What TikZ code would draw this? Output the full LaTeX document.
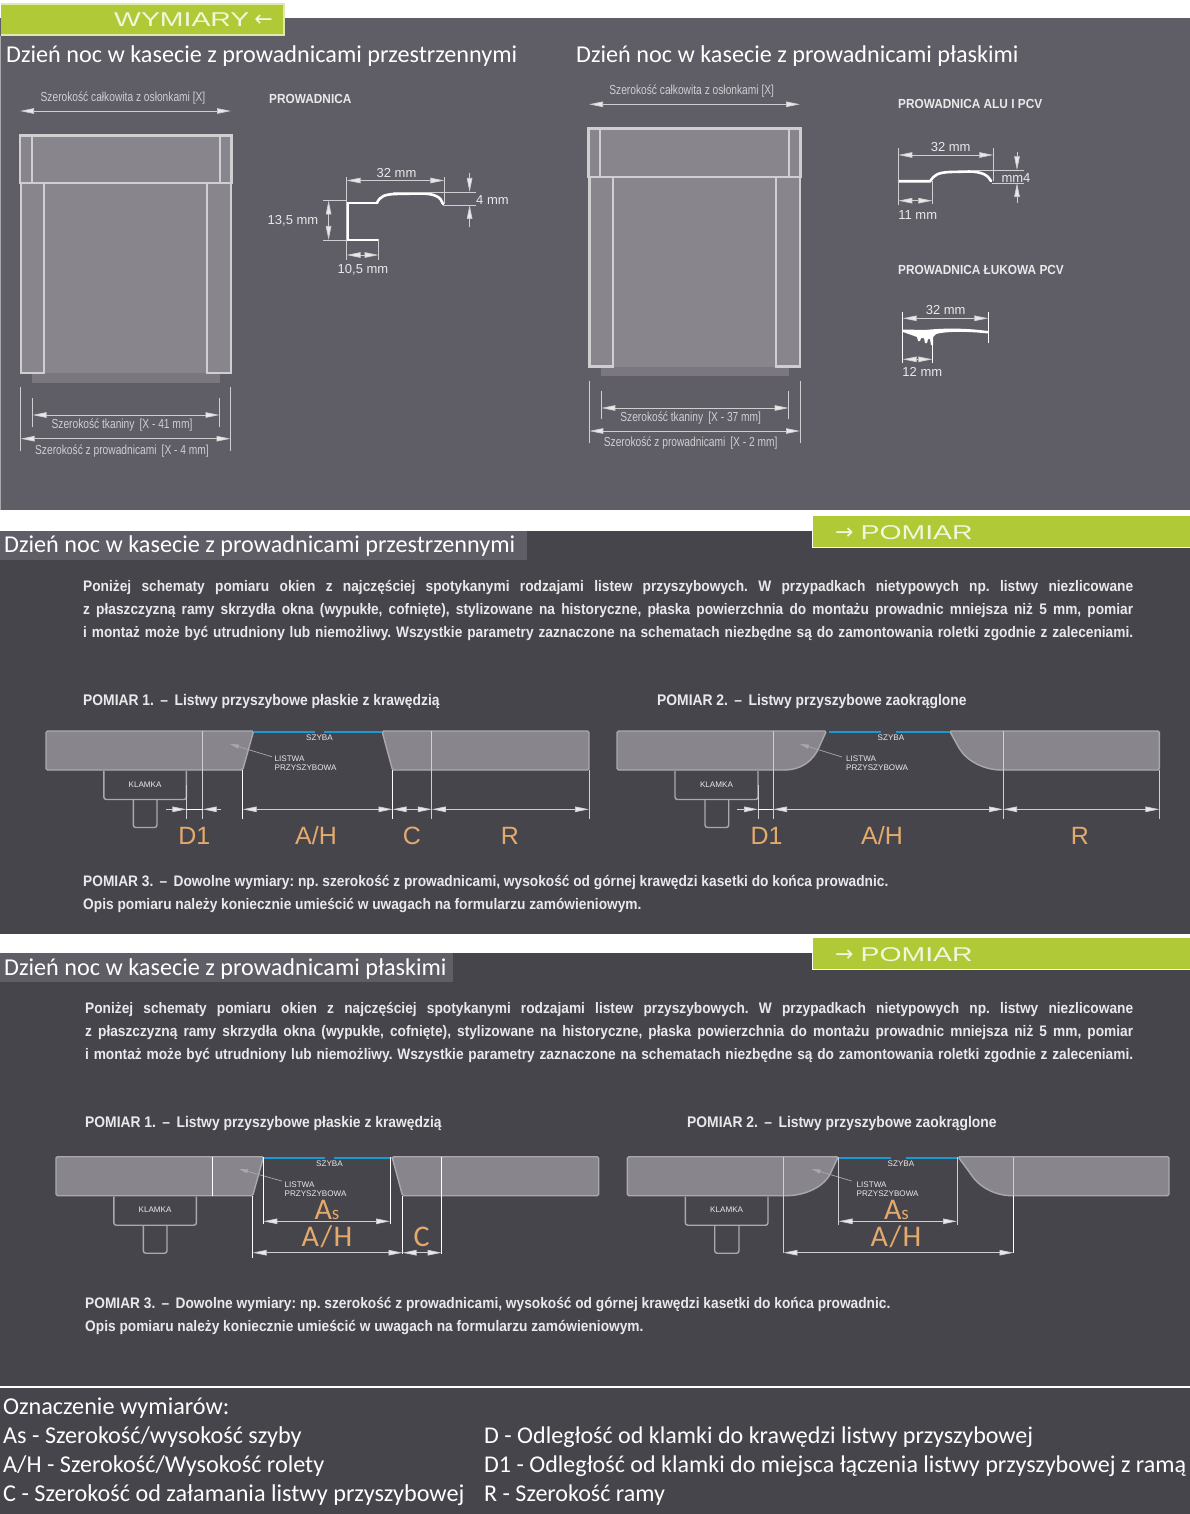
\documentclass[tikz,border=0pt]{standalone}
\usepackage{fontspec}
\usepackage{xcolor}
\usetikzlibrary{arrows.meta}
\newfontfamily\titlefont{Carlito}
\newfontfamily\plainfont{Liberation Sans}
\newfontfamily\captionfont[FakeStretch=0.78]{Liberation Sans}
\newfontfamily\narrowfont[FakeStretch=0.9]{Liberation Sans}
\newfontfamily\tabfont[FakeStretch=1.42]{Liberation Sans}
\newfontfamily\arrowfont{DejaVu Sans}
\definecolor{panelgray}{HTML}{5F5D66}
\definecolor{paneldark}{HTML}{47454C}
\definecolor{tabgreen}{HTML}{AFCA36}
\definecolor{tabtext}{HTML}{F2F6DC}
\definecolor{barfill}{HTML}{88868C}
\definecolor{barline}{HTML}{A9A9AD}
\definecolor{rimline}{HTML}{CFCFD2}
\definecolor{fabricdark}{HTML}{7A787E}
\definecolor{glassblue}{HTML}{1A9AD0}
\definecolor{sizeorange}{HTML}{E4AA6C}
\definecolor{softwhite}{HTML}{E9E9EB}
\tikzset{
	txt/.style={inner sep=0,text=softwhite},
	heading/.style={txt,anchor=west,text=white,yshift=-1.5pt,font=\titlefont\fontsize{24.2}{30}\selectfont},
	legend/.style={txt,anchor=west,text=white,yshift=-1.2pt,font=\titlefont\fontsize{24.2}{30}\selectfont},
	legendright/.style={legend,font=\titlefont\fontsize{24.05}{30}\selectfont},
	caption/.style={txt,text=rimline,yshift=-0.8pt,font=\captionfont\fontsize{13.1}{15}\selectfont},
	guidehead/.style={txt,anchor=west,yshift=-1.5pt,font=\narrowfont\bfseries\fontsize{15.25}{17}\selectfont\frenchspacing},
	pomiar/.style={txt,anchor=west,yshift=-1.5pt,font=\narrowfont\bfseries\fontsize{15.4}{18}\selectfont\frenchspacing},
	profilehead/.style={txt,anchor=west,yshift=-0.8pt,font=\narrowfont\bfseries\fontsize{13.15}{17}\selectfont},
	mm/.style={txt,yshift=-0.7pt,font=\plainfont\fontsize{13}{15}\selectfont},
	tiny/.style={txt,font=\plainfont\fontsize{8.1}{9}\selectfont},
	tinyleft/.style={tiny,anchor=west},
	tabtitle/.style={inner sep=0,anchor=west,text=tabtext,font=\tabfont\fontsize{20}{24}\selectfont},
	size/.style={inner sep=0,text=sizeorange,font=\plainfont\fontsize{25}{30}\selectfont},
	sizewide/.style={inner sep=0,text=sizeorange,font=\titlefont\fontsize{30}{32}\selectfont},
	dimline/.style={draw=rimline,line width=0.7pt,{Triangle[length=14pt,width=5.5pt,fill=softwhite]}-{Triangle[length=14pt,width=5.5pt,fill=softwhite]}},
	dimone/.style={draw=rimline,line width=0.7pt,-{Triangle[length=14pt,width=5.5pt,fill=softwhite]}},
	extline/.style={draw=rimline,line width=0.7pt},
	extwhite/.style={draw=white,line width=1pt},
	frame/.style={draw=rimline,line width=2.6pt,fill=barfill},
	bar/.style={draw=barline,line width=1.4pt,fill=barfill,rounded corners=1.5pt},
	lock/.style={draw=barline,line width=1.4pt,rounded corners=2.5pt},
	glass/.style={draw=glassblue,line width=2.4pt},
	leader/.style={draw=barline,line width=0.7pt,-{Triangle[length=9pt,width=4pt]}},
	profile/.style={draw=white,line width=2.6pt,line cap=round},
}
\newcommand{\klamka}[6]{% name, left, right, knob left, knob right, top
	\draw[lock] (#2,#6) -- (#2,#6+28.5) -- (#3,#6+28.5) -- (#3,#6);
	\draw[lock] (#4,#6+29) -- (#4,#6+56.5) -- (#5,#6+56.5) -- (#5,#6+29);
	\node[tiny] (#1) at ({(#2+#3)/2},#6+13.3) {KLAMKA};
}
\newcommand{\listwa}[4]{% name, centre of SZYBA, left of text, bar top
	\node[tiny] (#1szyba) at (#2,#4+7) {SZYBA};
	\node[tinyleft] (#1listwa) at (#3,#4+27.7) {LISTWA};
	\node[tinyleft] (#1przy) at (#3,#4+36.7) {PRZYSZYBOWA};
}
\newcommand{\bodytext}[5]{% name, left, width, y, text
	\node[guidehead] (#1) at (#2,#4) {\makebox[#3pt][s]{#5}};
}
\begin{document}
\begin{tikzpicture}[x=1pt,y=-1pt]
	\useasboundingbox (0,0) rectangle (1190,1514);
	\fill[white] (0,0) rectangle (1190,1514);
	
	% panels
	\fill[panelgray] (0,18) rectangle (1190,510);
	\draw[barline,line width=1pt] (0.5,36) -- (0.5,510);
	\fill[paneldark] (0,531) rectangle (1190,934);
	\fill[paneldark] (0,953) rectangle (1190,1514);
	\fill[panelgray] (0,531) rectangle (527,560);
	\fill[panelgray] (0,953) rectangle (453,982);
	\draw[white,line width=1.6pt] (0,1387) -- (1190,1387);
	
	% tabs
	\fill[tabgreen] (1,4) rectangle (284,35);
	\draw[tabtext!70!tabgreen,line width=1.4pt] (1,4) -- (284,4) -- (284,35) -- (1,35);
	\node[tabtitle] (wymiary) at (114,20) {WYMIARY\hspace{5pt}{\arrowfont\fontsize{22}{24}\selectfont ←}};
	\fill[tabgreen] (812,516) rectangle (1190,547);
	\draw[white,line width=1.4pt] (812.5,516) -- (812.5,547.5) -- (1190,547.5);
	\node[tabtitle] (pomiartop) at (835,533) {{\arrowfont\fontsize{22}{24}\selectfont →}\hspace{7pt}POMIAR};
	\fill[tabgreen] (812,938) rectangle (1190,969);
	\draw[white,line width=1.4pt] (812.5,938) -- (812.5,969.5) -- (1190,969.5);
	\node[tabtitle] (pomiarlow) at (835,955) {{\arrowfont\fontsize{22}{24}\selectfont →}\hspace{7pt}POMIAR};
	
	% headings
	\node[heading] (headA) at (6,55) {Dzień noc w kasecie z prowadnicami przestrzennymi};
	\node[heading] (headB) at (576,55) {Dzień noc w kasecie z prowadnicami płaskimi};
	\node[heading] (headC) at (4,545) {Dzień noc w kasecie z prowadnicami przestrzennymi};
	\node[heading] (headD) at (4,968) {Dzień noc w kasecie z prowadnicami płaskimi};
	
	% window, space guides
	\fill[barfill] (32,183) rectangle (220,373);
	\fill[fabricdark] (32,373) rectangle (220,383);
	\draw[frame] (21,183) rectangle (44,373);
	\draw[frame] (207,183) rectangle (231,373);
	\draw[frame] (20,135.5) rectangle (231.5,183);
	\draw[rimline,line width=2.6pt] (32,135.5) -- (32,183) (220,135.5) -- (220,183);
	\draw[dimline] (20,111) -- (231,111);
	\node[caption] (totalA) at (123,97) {Szerokość całkowita z osłonkami [X]};
	\draw[extline] (20.7,387) -- (20.7,451) (230.5,387) -- (230.5,451);
	\draw[extline] (32.5,398) -- (32.5,427) (219.5,398) -- (219.5,427);
	\draw[dimline] (32.5,415) -- (219.5,415);
	\node[caption] (fabricA) at (122,424) {Szerokość tkaniny\, [X - 41 mm]};
	\draw[dimline] (20.7,438.7) -- (230.5,438.7);
	\node[caption] (guidesA) at (122,450) {Szerokość z prowadnicami\, [X - 4 mm]};
	
	% window, flat guides
	\fill[barfill] (601,177) rectangle (789,367);
	\fill[fabricdark] (601,367) rectangle (789,375.5);
	\draw[frame] (589.5,177) rectangle (613,366.5);
	\draw[frame] (776,177) rectangle (800,366.5);
	\draw[frame] (588.5,128.5) rectangle (800.5,177);
	\draw[rimline,line width=2.6pt] (600,128.5) -- (600,177) (789,128.5) -- (789,177);
	\draw[dimline] (589,104.3) -- (800,104.3);
	\node[caption] (totalB) at (691.7,90.7) {Szerokość całkowita z osłonkami [X]};
	\draw[extline] (589.3,380.7) -- (589.3,443) (800,380.7) -- (800,443);
	\draw[extline] (601.3,390.7) -- (601.3,419) (788.7,390.7) -- (788.7,419);
	\draw[dimline] (601.3,408) -- (788.7,408);
	\node[caption] (fabricB) at (690.7,417.3) {Szerokość tkaniny\, [X - 37 mm]};
	\draw[dimline] (589.3,431) -- (800,431);
	\node[caption] (guidesB) at (690.7,442) {Szerokość z prowadnicami\, [X - 2 mm]};
	
	% profile PROWADNICA
	\node[profilehead] (guideA) at (269,98) {PROWADNICA};
	\draw[profile] (377,203) -- (348,203) -- (348,240) -- (378,240);
	\draw[profile] (377,203) .. controls (380,196) and (385,194.5) .. (395,194) -- (420,193.5) .. controls (435,193.5) and (441,197) .. (443,204);
	\draw[extline] (346.5,177) -- (346.5,240) (444.3,177) -- (444.3,204);
	\draw[dimline] (346.5,180.5) -- (444.3,180.5);
	\node[mm] (mmA) at (396.5,172.7) {32 mm};
	\draw[extline] (393,192) -- (476,192) (443,205) -- (476,205);
	\draw[dimone] (469.6,173) -- (469.6,192);
	\draw[dimone] (469.6,226.7) -- (469.6,205);
	\node[mm,anchor=west] (mmB) at (476,199) {4 mm};
	\draw[extline] (323,200.5) -- (346.5,200.5) (323,240) -- (346.5,240);
	\draw[dimline] (328.6,200.5) -- (328.6,240);
	\node[mm] (mmC) at (293,220.5) {13,5 mm};
	\draw[extline] (346.5,240) -- (346.5,260) (378.6,240) -- (378.6,260);
	\draw[dimline] (346.5,255) -- (378.6,255);
	\node[mm] (mmD) at (363,269.5) {10,5 mm};
	
	% profile ALU
	\node[profilehead] (guideB) at (898,103) {PROWADNICA ALU I PCV};
	\draw[profile] (899,181.3) -- (930,181.3) .. controls (934,175) and (938,172.5) .. (950,172) -- (970,171.5) .. controls (982,172) and (988,175) .. (991,181);
	\draw[extline] (898.3,148.3) -- (898.3,205) (993.3,148.3) -- (993.3,181);
	\draw[dimline] (898.3,155) -- (993.3,155);
	\node[mm] (mmE) at (950.7,146) {32 mm};
	\draw[extline] (970,170.3) -- (1024,170.3) (992,183) -- (1024,183);
	\draw[dimone] (1017,151.7) -- (1017,170.3);
	\draw[dimone] (1017,203) -- (1017,183);
	\node[mm] (mmF) at (1016,177.3) {mm4};
	\draw[extline] (932.3,181) -- (932.3,204);
	\draw[dimline] (898.3,200.7) -- (932.3,200.7);
	\node[mm] (mmG) at (917.7,214) {11 mm};
	
	% profile arched
	\node[profilehead] (guideC) at (898,269) {PROWADNICA ŁUKOWA PCV};
	\fill[white] (903,329.5) -- (925,330) .. controls (945,328) and (965,328) .. (988,331) -- (988,333.5) .. controls (965,331) and (945,331.5) .. (936,334) -- (933,337) -- (933,345) -- (931,345) -- (930,339) -- (928,339) -- (927,343) -- (925,343) -- (924,338) -- (921,338) -- (920,341) -- (918,341) -- (917,337) -- (903,332) -- cycle;
	\draw[extwhite] (902.7,311.7) -- (902.7,363.3) (988.3,311.7) -- (988.3,343.3) (932.3,345) -- (932.3,363.3);
	\draw[dimline] (902.7,318.3) -- (988.3,318.3);
	\node[mm] (mmH) at (945.7,309.7) {32 mm};
	\draw[dimline] (902.7,359.3) -- (932.3,359.3);
	\node[mm] (mmI) at (922.3,371.7) {12 mm};
	
	% section 2 text
	\bodytext{lineA}{83}{1050}{586}{Poniżej schematy pomiaru okien z najczęściej spotykanymi rodzajami listew przyszybowych. W przypadkach nietypowych np. listwy niezlicowane}
	\bodytext{lineB}{83}{1050}{609}{z płaszczyzną ramy skrzydła okna (wypukłe, cofnięte), stylizowane na historyczne, płaska powierzchnia do montażu prowadnic mniejsza niż 5 mm, pomiar}
	\bodytext{lineC}{83}{1050}{632}{i montaż może być utrudniony lub niemożliwy. Wszystkie parametry zaznaczone na schematach niezbędne są do zamontowania roletki zgodnie z zaleceniami.}
	\node[pomiar] (pomA) at (83,700) {POMIAR 1.\, –\, Listwy przyszybowe płaskie z krawędzią};
	\node[pomiar] (pomB) at (657,700) {POMIAR 2.\, –\, Listwy przyszybowe zaokrąglone};
	\node[guidehead] (pomC) at (83,881) {POMIAR 3.\, –\, Dowolne wymiary: np. szerokość z prowadnicami, wysokość od górnej krawędzi kasetki do końca prowadnic.};
	\node[guidehead] (pomD) at (83,904) {Opis pomiaru należy koniecznie umieścić w uwagach na formularzu zamówieniowym.};
	
	% POMIAR 1 (top)
	\draw[bar] (46,731) -- (253.6,731) -- (242.7,770) -- (46,770) -- cycle;
	\draw[bar] (382,731) -- (589,731) -- (589,770) -- (392.5,770) -- cycle;
	\draw[rimline,line width=1.2pt] (202.7,731) -- (202.7,770) (431.8,731) -- (431.8,770);
	\draw[glass] (253.6,732) -- (314.7,732) (323.8,732) -- (382,732);
	\draw[leader] (271.8,756.7) -- (230,744);
	\listwa{a}{319.5}{274.4}{731}
	\klamka{lockA}{103.8}{186.4}{133.3}{157}{771}
	\draw[extline] (186.4,785) -- (186.4,819) (202.7,770) -- (202.7,819) (431.8,770) -- (431.8,819) (589,770) -- (589,819);
	\draw[extwhite] (242.7,770) -- (242.7,819) (392.5,770) -- (392.5,819);
	\draw[dimone] (166,809.3) -- (186.4,809.3);
	\draw[dimone] (221,809.3) -- (202.7,809.3);
	\draw[white,line width=1pt] (186.4,809.3) -- (202.7,809.3);
	\draw[dimline] (242.7,809.3) -- (392.5,809.3);
	\draw[dimline] (392.5,809.3) -- (431.8,809.3);
	\draw[dimline] (431.8,809.3) -- (589,809.3);
	\node[size] (sizeA) at (194.4,835.7) {D1};
	\node[size] (sizeB) at (316,835.7) {A/H};
	\node[size] (sizeC) at (411.8,835.7) {C};
	\node[size] (sizeD) at (510,835.7) {R};
	
	% POMIAR 2 (top)
	\draw[bar] (617,731) -- (826.4,731) -- (820,745) .. controls (813,762) and (800,770) .. (783,770) -- (617,770) -- cycle;
	\draw[bar] (949.6,731) -- (1159.4,731) -- (1159.4,770) -- (1003,770) .. controls (985,770) and (968,762) .. (959,748) -- cycle;
	\draw[glass] (828.6,732) -- (881,732) (896,732) -- (949.6,732);
	\draw[leader] (842,757) -- (800,744);
	\listwa{b}{891}{846}{731}
	\klamka{lockB}{675}{758}{705}{728.7}{771}
	\draw[extline] (758,785) -- (758,819) (773,731) -- (773,819) (1003,731) -- (1003,819) (1159.4,770) -- (1159.4,819);
	\draw[dimone] (737,809.3) -- (758,809.3);
	\draw[white,line width=1pt] (758,809.3) -- (773,809.3);
	\draw[dimline] (773,809.3) -- (1003,809.3);
	\draw[dimline] (1003,809.3) -- (1159.4,809.3);
	\node[size] (sizeE) at (766.5,835.7) {D1};
	\node[size] (sizeF) at (882,835.7) {A/H};
	\node[size] (sizeG) at (1080,835.7) {R};
	
	% section 3 text
	\bodytext{lineD}{85}{1048}{1008}{Poniżej schematy pomiaru okien z najczęściej spotykanymi rodzajami listew przyszybowych. W przypadkach nietypowych np. listwy niezlicowane}
	\bodytext{lineE}{85}{1048}{1031}{z płaszczyzną ramy skrzydła okna (wypukłe, cofnięte), stylizowane na historyczne, płaska powierzchnia do montażu prowadnic mniejsza niż 5 mm, pomiar}
	\bodytext{lineF}{85}{1048}{1054}{i montaż może być utrudniony lub niemożliwy. Wszystkie parametry zaznaczone na schematach niezbędne są do zamontowania roletki zgodnie z zaleceniami.}
	\node[pomiar] (pomE) at (85,1122) {POMIAR 1.\, –\, Listwy przyszybowe płaskie z krawędzią};
	\node[pomiar] (pomF) at (687,1122) {POMIAR 2.\, –\, Listwy przyszybowe zaokrąglone};
	\node[guidehead] (pomG) at (85,1303) {POMIAR 3.\, –\, Dowolne wymiary: np. szerokość z prowadnicami, wysokość od górnej krawędzi kasetki do końca prowadnic.};
	\node[guidehead] (pomH) at (85,1326) {Opis pomiaru należy koniecznie umieścić w uwagach na formularzu zamówieniowym.};
	
	% POMIAR 1 (low)
	\draw[bar] (56,1156.7) -- (263.6,1156.7) -- (252.7,1195.7) -- (56,1195.7) -- cycle;
	\draw[bar] (392,1156.7) -- (598.7,1156.7) -- (598.7,1195.7) -- (402.5,1195.7) -- cycle;
	\draw[white,line width=1.4pt] (212.7,1156.7) -- (212.7,1195.7) (441.7,1156.7) -- (441.7,1195.7);
	\draw[glass] (263.6,1157.7) -- (324.7,1157.7) (333.8,1157.7) -- (392,1157.7);
	\draw[leader] (281.8,1181) -- (239,1169);
	\listwa{c}{329.5}{284.4}{1156.5}
	\klamka{lockC}{113.8}{196.4}{143.3}{167}{1196.7}
	\draw[extwhite] (263.3,1157) -- (263.3,1224) (390,1157) -- (390,1224);
	\draw[dimline] (263.3,1221.3) -- (390,1221.3);
	\node[sizewide] (sizeH) at (327,1210) {A{\fontsize{19}{20}\selectfont s}};
	\draw[extwhite] (252.7,1196) -- (252.7,1258) (402.5,1196) -- (402.5,1254) (441.7,1196) -- (441.7,1254);
	\draw[dimline] (252.7,1252.7) -- (402.5,1252.7);
	\draw[dimline] (402.5,1252.7) -- (441.7,1252.7);
	\node[sizewide] (sizeI) at (327,1237) {A\kern1.5pt/\kern1.5pt H};
	\node[sizewide] (sizeJ) at (421.7,1237) {C};
	
	% POMIAR 2 (low)
	\draw[bar] (627.4,1156.7) -- (838.3,1156.7) -- (832,1170) .. controls (825,1187) and (805,1195.7) .. (784.5,1195.7) -- (627.4,1195.7) -- cycle;
	\draw[bar] (958,1156.7) -- (1169,1156.7) -- (1169,1195.7) -- (1013.5,1195.7) .. controls (995,1195.7) and (979,1187) .. (970,1173) -- cycle;
	\draw[glass] (838.6,1157.7) -- (890.6,1157.7) (906,1157.7) -- (958,1157.7);
	\draw[leader] (851.7,1181) -- (811.7,1169);
	\listwa{d}{901}{856.5}{1156.5}
	\klamka{lockD}{685.3}{768}{714.7}{739}{1196.7}
	\draw[extline] (783.4,1156.7) -- (783.4,1253);
	\draw[extwhite] (1013.5,1196) -- (1013.5,1253);
	\draw[extline] (1013.5,1156.7) -- (1013.5,1196);
	\draw[extline] (838.6,1157) -- (838.6,1225) (957,1157) -- (957,1225);
	\draw[dimline] (838.6,1221.3) -- (957,1221.3);
	\node[sizewide] (sizeK) at (896.5,1210) {A{\fontsize{19}{20}\selectfont s}};
	\draw[dimline] (783.4,1252.7) -- (1013.5,1252.7);
	\node[sizewide] (sizeL) at (896,1237) {A\kern1.5pt/\kern1.5pt H};
	
	% legend
	\node[legend] (keyA) at (3,1407) {Oznaczenie wymiarów:};
	\node[legend] (keyB) at (3,1436) {As - Szerokość/wysokość szyby};
	\node[legend] (keyC) at (3,1465) {A/H - Szerokość/Wysokość rolety};
	\node[legend] (keyD) at (3,1494) {C - Szerokość od załamania listwy przyszybowej};
	\node[legendright] (keyE) at (484,1436) {D - Odległość od klamki do krawędzi listwy przyszybowej};
	\node[legendright] (keyF) at (484,1465) {D1 - Odległość od klamki do miejsca łączenia listwy przyszybowej z ramą};
	\node[legendright] (keyG) at (484,1494) {R - Szerokość ramy};
\end{tikzpicture}
\end{document}
